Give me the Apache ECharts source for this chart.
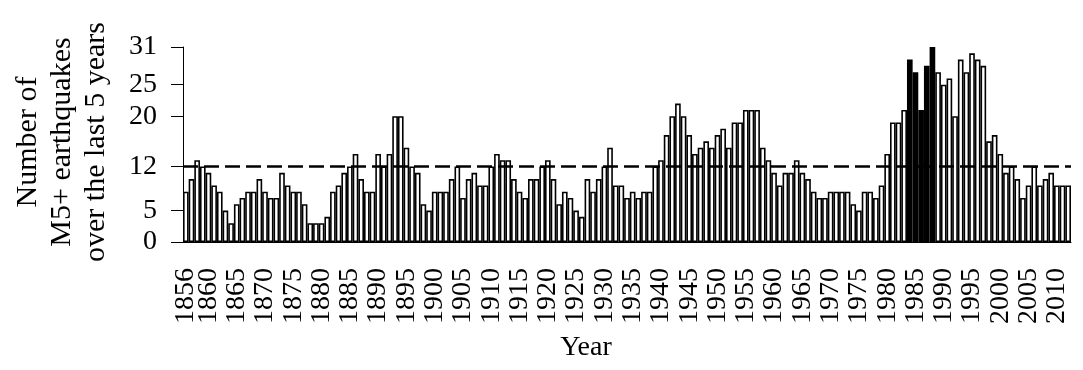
<!DOCTYPE html>
<html>
<head>
<meta charset="utf-8">
<script src="https://cdn.jsdelivr.net/npm/echarts@6/dist/echarts.min.js"></script>
<style>
  html, body { margin: 0; padding: 0; background: #fff; }
  #quake_chart { width: 1083px; height: 370px; }
</style>
</head>
<body>
<div id="quake_chart"></div>
<script>
// years 1856 .. 2012, one bar per year
const firstYear = 1856;
const counts = [
  8, 10, 13, 12, 11, 9, 8, 5, 3, 6,          // 1856-1865
  7, 8, 8, 10, 8, 7, 7, 11, 9, 8,            // 1866-1875
  8, 6, 3, 3, 3, 4, 8, 9, 11, 12,            // 1876-1885
  14, 10, 8, 8, 14, 12, 14, 20, 20, 15,      // 1886-1895
  12, 11, 6, 5, 8, 8, 8, 10, 12, 7,          // 1896-1905
  10, 11, 9, 9, 12, 14, 13, 13, 10, 8,       // 1906-1915
  7, 10, 10, 12, 13, 10, 6, 8, 7, 5,         // 1916-1925
  4, 10, 8, 10, 12, 15, 9, 9, 7, 8,          // 1926-1935
  7, 8, 8, 12, 13, 17, 20, 22, 20, 17,       // 1936-1945
  14, 15, 16, 15, 17, 18, 15, 19, 19, 21,    // 1946-1955
  21, 21, 15, 13, 11, 9, 11, 11, 13, 11,     // 1956-1965
  10, 8, 7, 7, 8, 8, 8, 8, 6, 5,             // 1966-1975
  8, 8, 7, 9, 14, 19, 19, 21, 29, 27,        // 1976-1985
  21, 28, 31, 27, 25, 26, 20, 29, 27, 30,    // 1986-1995
  29, 28, 16, 17, 14, 11, 12, 10, 7, 9,      // 1996-2005
  12, 9, 10, 11, 9, 9, 9                     // 2006-2012
];
const highlightYears = [1984, 1985, 1986, 1987, 1988];
const yTicks = [0, 5, 12, 20, 25, 31];
const threshold = 12;

const years = counts.map((v, i) => String(firstYear + i));
const showTick = (i, v) => v === '1856' || Number(v) % 5 === 0;
const serif = 'Liberation Serif';

const barData = counts.map((v, i) => {
  if (highlightYears.indexOf(firstYear + i) >= 0) {
    return { value: v, itemStyle: { color: '#000' } };
  }
  return v;
});

// shared label look for the year axis
const yearLabel = {
  rotate: 90,
  margin: 26,
  color: '#000',
  fontFamily: serif,
  fontSize: 28
};

const chart = echarts.init(document.getElementById('quake_chart'));
chart.setOption({
  animation: false,
  backgroundColor: '#fff',
  grid: { left: 183, right: 12, top: 47, bottom: 128, containLabel: false },
  xAxis: [
    {
      type: 'category',
      data: years,
      axisLine: { lineStyle: { color: '#000', width: 1 } },
      axisTick: { alignWithLabel: true, interval: showTick, length: 12, lineStyle: { color: '#000' } },
      // 1856 sits too close to 1860, so it is drawn by the second axis
      axisLabel: Object.assign({ interval: (i, v) => v !== '1856' && Number(v) % 5 === 0 }, yearLabel),
      splitLine: { show: false }
    },
    {
      type: 'category',
      data: years,
      position: 'bottom',
      axisLine: { show: false },
      axisTick: { show: false },
      axisLabel: Object.assign({ interval: (i, v) => v === '1856' }, yearLabel),
      splitLine: { show: false }
    }
  ],
  yAxis: {
    type: 'value',
    min: 0,
    max: 31,
    axisLine: { show: true, lineStyle: { color: '#000', width: 1 } },
    axisTick: { show: true, customValues: yTicks, length: 12, lineStyle: { color: '#000' } },
    axisLabel: {
      customValues: yTicks,
      margin: 26,
      color: '#000',
      fontFamily: serif,
      fontSize: 28
    },
    splitLine: { show: false }
  },
  graphic: [
    {
      type: 'text',
      x: 62,
      y: 142,
      rotation: Math.PI / 2,
      style: {
        text: 'Number of\nM5+ earthquakes\nover the last 5 years',
        font: '30px "Liberation Serif"',
        lineHeight: 34,
        fill: '#000',
        align: 'center',
        verticalAlign: 'middle'
      }
    },
    {
      type: 'text',
      x: 586,
      y: 348,
      style: {
        text: 'Year',
        font: '28px "Liberation Serif"',
        fill: '#000',
        align: 'center',
        verticalAlign: 'middle'
      }
    }
  ],
  series: [
    {
      type: 'bar',
      data: barData,
      barWidth: '100%',
      barCategoryGap: 0,
      itemStyle: { color: '#fff', borderColor: '#000', borderWidth: 1.6 },
      markLine: {
        silent: true,
        symbol: 'none',
        label: { show: false },
        lineStyle: { color: '#000', type: [15, 6], width: 2.5 },
        data: [{ yAxis: threshold }]
      }
    }
  ]
});
</script>
</body>
</html>
